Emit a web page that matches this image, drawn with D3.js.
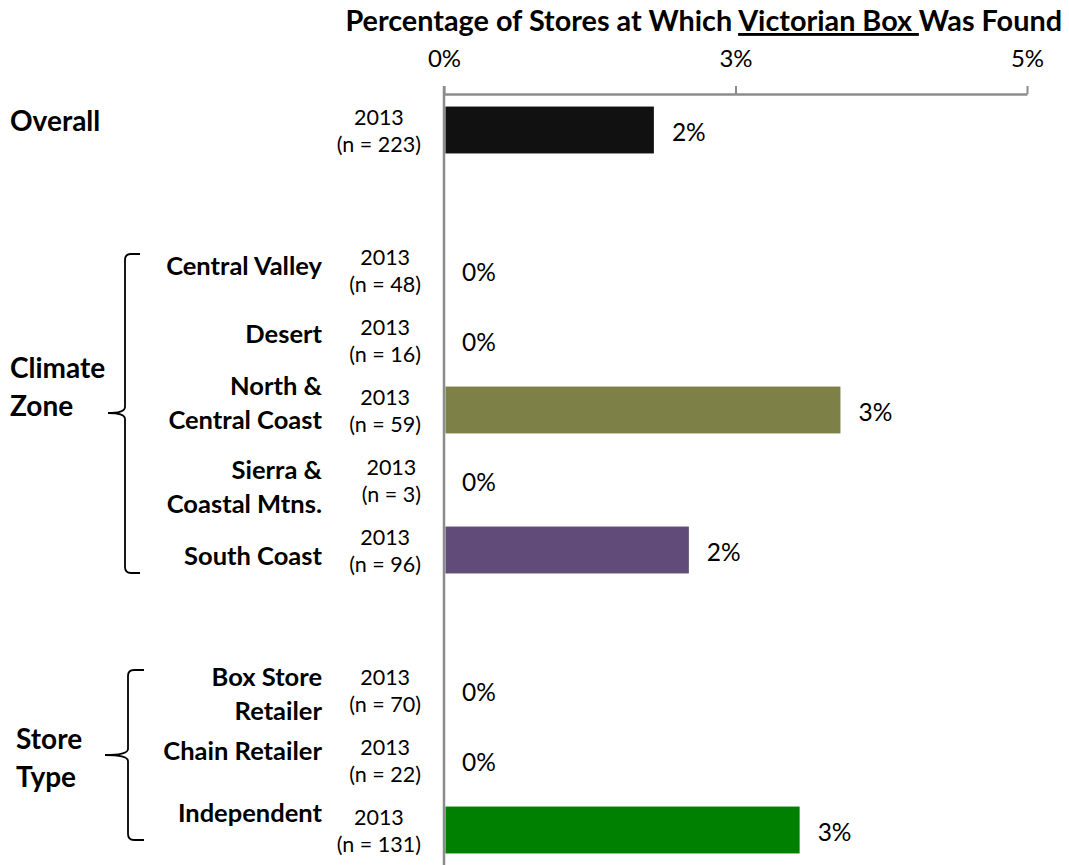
<!DOCTYPE html>
<html>
<head>
<meta charset="utf-8">
<script src="https://cdn.jsdelivr.net/npm/d3@7"></script>
<style>
  html, body { margin: 0; padding: 0; background: #fff; }
  svg { display: block; font-family: Lato, "Open Sans", sans-serif; }
</style>
</head>
<body>
<svg id="chart" width="1069" height="865"></svg>
<script>
// ---- data ----
const rowKeys = ["Overall", "gap1", "Central Valley", "Desert", "North & Central Coast",
  "Sierra & Coastal Mtns.", "South Coast", "gap2", "Box Store Retailer", "Chain Retailer", "Independent"];
const categories = ["Overall", "Central Valley", "Desert", "North & Central Coast",
  "Sierra & Coastal Mtns.", "South Coast", "Box Store Retailer", "Chain Retailer", "Independent"];
const categoryLines = [[], ["Central Valley"], ["Desert"], ["North &", "Central Coast"],
  ["Sierra &", "Coastal Mtns."], ["South Coast"], ["Box Store", "Retailer"], ["Chain Retailer"], ["Independent"]];
const groups = ["Overall", "Climate Zone", "Climate Zone", "Climate Zone", "Climate Zone",
  "Climate Zone", "Store Type", "Store Type", "Store Type"];
const groupNames = ["Overall", "Climate Zone", "Store Type"];
const groupLines = [["Overall"], ["Climate", "Zone"], ["Store", "Type"]];
const years = ["2013", "2013", "2013", "2013", "2013", "2013", "2013", "2013", "2013"];
const sampleSizes = [223, 48, 16, 59, 3, 96, 70, 22, 131];
const values = [0.018, 0, 0, 0.034, 0, 0.021, 0, 0, 0.0305];
const barColors = ["#111111", "#111111", "#111111", "#7e8147", "#111111", "#614b79", "#111111", "#111111", "#008000"];
const tickValues = [0, 0.025, 0.05];
const tickLabels = ["0%", "3%", "5%"];
const titleParts = ["Percentage of Stores at Which ", "Victorian Box ", "Was Found"];

// ---- layout ----
const svg = d3.select("#chart");
const axisY = 94;
const x = d3.scaleLinear().domain([0, 0.05]).range([444, 1027]);
const y = d3.scaleBand().domain(rowKeys).range([95, 865]).paddingInner(0.33).paddingOuter(0.165);
const bw = y.bandwidth();
const rowCenter = k => y(k) + bw / 2;
const gray = "#8c8c8c";

// label block nudges (vertical, px) for the category text boxes
const labelNudge = { "Central Valley": -5, "Desert": -7, "North & Central Coast": -8,
  "Sierra & Coastal Mtns.": 6, "South Coast": 5, "Box Store Retailer": 3,
  "Chain Retailer": -10, "Independent": -18 };

// title
const title = svg.append("text")
  .attr("x", 1062).attr("y", 31)
  .attr("text-anchor", "end")
  .attr("font-weight", "bold").attr("font-size", 28.8)
  .attr("fill", "#000")
  .style("white-space", "pre");
titleParts.forEach((t, i) => {
  const ts = title.append("tspan").text(t);
  if (i === 1) ts.style("text-decoration", "underline");
});

// top axis
const axis = d3.axisTop(x)
  .tickValues(tickValues)
  .tickFormat((d, i) => tickLabels[i])
  .tickSizeInner(8).tickSizeOuter(0).tickPadding(19);
const gAxis = svg.append("g").attr("transform", `translate(0,${axisY})`).call(axis);
gAxis.select(".domain").attr("stroke", gray).attr("stroke-width", 2.5);
gAxis.selectAll(".tick line").attr("stroke", gray).attr("stroke-width", 2);
gAxis.selectAll(".tick text").attr("fill", "#000").attr("font-size", 24)
  .attr("font-family", "Lato, 'Open Sans', sans-serif");

// vertical baseline
svg.append("line")
  .attr("x1", x(0)).attr("x2", x(0))
  .attr("y1", axisY - 8).attr("y2", 865)
  .attr("stroke", gray).attr("stroke-width", 2.5);

// bars
const rows = categories.map((c, i) => ({
  key: c, value: values[i], color: barColors[i], n: sampleSizes[i], year: years[i],
  lines: categoryLines[i], group: groups[i]
}));

svg.append("g").selectAll("rect")
  .data(rows.filter(d => d.value > 0))
  .join("rect")
  .attr("x", x(0) + 1.5)
  .attr("y", d => y(d.key))
  .attr("width", d => x(d.value) - x(0) - 1.5)
  .attr("height", bw)
  .attr("fill", d => d.color);

// value labels
const fmt = d3.format(".0%");
svg.append("g").selectAll("text")
  .data(rows)
  .join("text")
  .attr("x", d => x(d.value) + 18)
  .attr("y", d => rowCenter(d.key) + 1)
  .attr("dominant-baseline", "central")
  .attr("font-size", 24.5)
  .attr("fill", "#000")
  .text(d => fmt(d.value));

// year / sample size labels: centred two-line boxes, right edge at a fixed x
const nRight = 421;
const nLab = svg.append("g").selectAll("text")
  .data(rows)
  .join("text")
  .attr("text-anchor", "middle")
  .attr("font-size", 21.5)
  .attr("fill", "#000");
nLab.append("tspan").attr("class", "yr").attr("y", d => rowCenter(d.key) - 13)
  .attr("dominant-baseline", "central").text(d => d.year);
nLab.append("tspan").attr("class", "nn").attr("y", d => rowCenter(d.key) + 14)
  .attr("dominant-baseline", "central").text(d => `(n = ${d.n})`);
nLab.each(function () {
  const t = d3.select(this);
  const w = Math.max(t.select(".yr").node().getComputedTextLength(),
                     t.select(".nn").node().getComputedTextLength());
  t.selectAll("tspan").attr("x", nRight - w / 2);
});

// category labels
const cLab = svg.append("g").selectAll("text")
  .data(rows.filter(d => d.lines.length))
  .join("text")
  .attr("text-anchor", "end")
  .attr("font-weight", "bold")
  .attr("font-size", 25.5)
  .attr("fill", "#000");
cLab.each(function (d) {
  const n = d.lines.length;
  const c = rowCenter(d.key) + (labelNudge[d.key] || 0);
  d3.select(this).selectAll("tspan").data(d.lines).join("tspan")
    .attr("x", 322)
    .attr("y", (l, i) => c + (i - (n - 1) / 2) * 34)
    .attr("dominant-baseline", "central")
    .text(l => l);
});

// group labels and braces
const groupLayout = {
  "Overall": { x: 10, dy: -10, brace: null },
  "Climate Zone": { x: 10, dy: -24, brace: { x: 125, tip: 108, end: 140, top: -16, bottom: 23, mid: 413 } },
  "Store Type": { x: 16, dy: -3, brace: { x: 128, tip: 105, end: 144, top: -20, bottom: 10, mid: 755 } }
};
groupNames.forEach((g, gi) => {
  const members = rows.filter(r => r.group === g);
  const first = rowCenter(members[0].key);
  const last = rowCenter(members[members.length - 1].key);
  const L = groupLayout[g];
  const mid = (first + last) / 2 + L.dy;
  const t = svg.append("text").attr("font-weight", "bold").attr("font-size", 28).attr("fill", "#000");
  groupLines[gi].forEach((l, i) => {
    t.append("tspan").attr("x", L.x)
      .attr("y", mid + (i - (groupLines[gi].length - 1) / 2) * 38)
      .attr("dominant-baseline", "central").text(l);
  });
  if (L.brace) {
    const b = L.brace;
    const top = first + b.top, bot = last + b.bottom, m = b.mid;
    const r = 6;
    const p = d3.path();
    p.moveTo(b.end, top);
    p.lineTo(b.x + r, top);
    p.quadraticCurveTo(b.x, top, b.x, top + r);
    p.lineTo(b.x, m - r);
    p.quadraticCurveTo(b.x, m, b.tip, m);
    p.quadraticCurveTo(b.x, m, b.x, m + r);
    p.lineTo(b.x, bot - r);
    p.quadraticCurveTo(b.x, bot, b.x + r, bot);
    p.lineTo(b.end, bot);
    svg.append("path").attr("d", p.toString())
      .attr("fill", "none").attr("stroke", "#000").attr("stroke-width", 1.8);
  }
});
</script>
</body>
</html>
